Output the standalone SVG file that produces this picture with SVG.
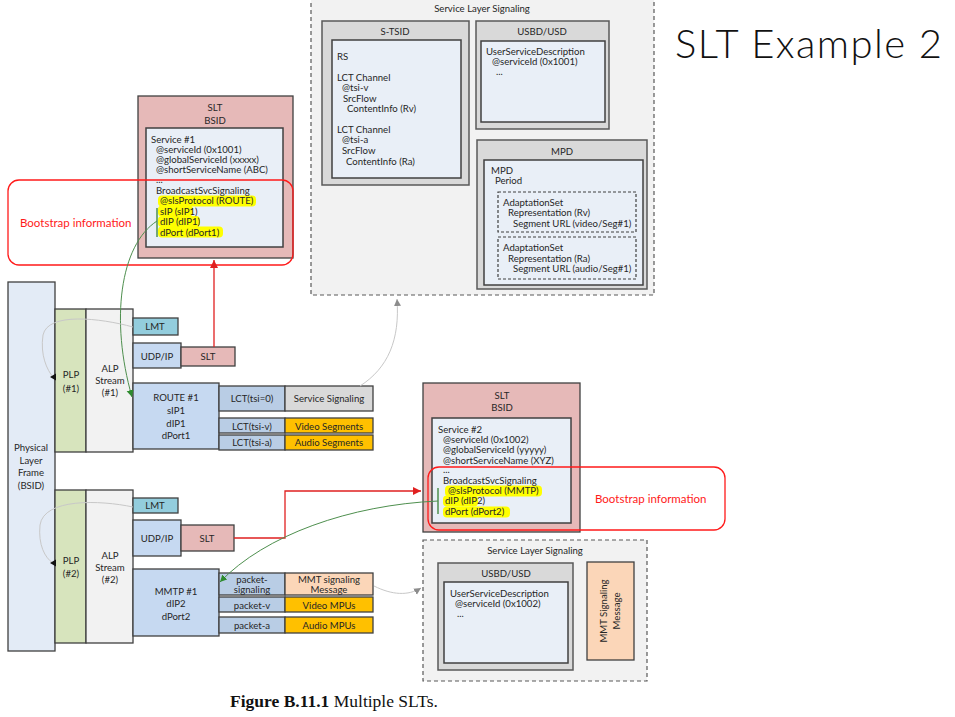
<svg xmlns="http://www.w3.org/2000/svg" width="955" height="717" viewBox="0 0 955 717">
<defs>
<style>
.t{font-family:Lato,"Liberation Sans",sans-serif;font-size:9.6px;fill:#262626}
.c{text-anchor:middle}
.b{stroke:#404040;stroke-width:1.3}
.sls{fill:#F2F2F2;stroke:#595959;stroke-width:1.2;stroke-dasharray:4 3}
.og{fill:#D9D9D9;stroke:#595959;stroke-width:1.5}
.in{fill:#E9EFF7;stroke:#404040;stroke-width:1.5}
.dsh{fill:none;stroke:#404040;stroke-width:1.2;stroke-dasharray:3 2}
.pink{fill:#E6B9B8}
.lb{fill:#C6D9F1}
.lct{fill:#B9CDE5}
.org{fill:#FFC000}
.hl{fill:#FFFF00}
.boot{fill:none;stroke:#FF1A1A;stroke-width:1.3}
.bt{font-family:Lato,"Liberation Sans",sans-serif;font-size:11.5px;fill:#FF1A1A}
.red{fill:none;stroke:#E02020;stroke-width:1.3}
.grn{fill:none;stroke:#4E8F4E;stroke-width:1}
.gry{fill:none;stroke:#C8C8C8;stroke-width:1}
</style>
<marker id="ar" markerWidth="10" markerHeight="10" refX="8" refY="4" orient="auto" markerUnits="userSpaceOnUse"><path d="M0,0 L8,4 L0,8 z" fill="#E02020"/></marker>
<marker id="ag" markerWidth="10" markerHeight="10" refX="7" refY="3.5" orient="auto" markerUnits="userSpaceOnUse"><path d="M0,0 L7,3.5 L0,7 z" fill="#2E8B2E"/></marker>
<marker id="ay" markerWidth="10" markerHeight="10" refX="7" refY="3.5" orient="auto" markerUnits="userSpaceOnUse"><path d="M0,0 L7,3.5 L0,7 z" fill="#8C8C8C"/></marker>
</defs>
<rect width="955" height="717" fill="#FFFFFF"/>

<!-- Title -->
<text x="675" y="58" font-family="Lato,'Liberation Sans',sans-serif" font-size="40" font-weight="300" fill="#111" textLength="267">SLT Example 2</text>

<!-- Top Service Layer Signaling -->
<g id="sls1">
<rect class="sls" x="311" y="-5" width="343" height="300"/>
<text class="t c" x="482" y="11.5">Service Layer Signaling</text>
<g id="stsid">
<rect class="og" x="322" y="21" width="147" height="164"/>
<text class="t c" x="395" y="34.5">S-TSID</text>
<rect class="in" x="332" y="40" width="129" height="138"/>
<text class="t" x="337" y="59.5">RS</text>
<text class="t" x="337" y="80.5">LCT Channel</text>
<text class="t" x="342" y="90.5">@tsi-v</text>
<text class="t" x="343" y="101.5">SrcFlow</text>
<text class="t" x="347" y="111.5">ContentInfo (Rv)</text>
<text class="t" x="337" y="132.5">LCT Channel</text>
<text class="t" x="342" y="142.5">@tsi-a</text>
<text class="t" x="342" y="153.5">SrcFlow</text>
<text class="t" x="346" y="164.5">ContentInfo (Ra)</text>
</g>
<g id="usbd1">
<rect class="og" x="476" y="21" width="133" height="108"/>
<text class="t c" x="542" y="34.5">USBD/USD</text>
<rect class="in" x="481" y="41" width="124" height="81"/>
<text class="t" x="486" y="54.5">UserServiceDescription</text>
<text class="t" x="492" y="64.5">@serviceId (0x1001)</text>
<text class="t" x="496" y="75">...</text>
</g>
<g id="mpd">
<rect class="og" x="477" y="140" width="170" height="149"/>
<text class="t c" x="562" y="154.5">MPD</text>
<rect class="in" x="484" y="160" width="159" height="125"/>
<text class="t" x="491" y="173.5">MPD</text>
<text class="t" x="495" y="183.5">Period</text>
<rect class="dsh" x="498" y="192" width="138" height="40"/>
<text class="t" x="503" y="205.5">AdaptationSet</text>
<text class="t" x="508" y="215.5">Representation (Rv)</text>
<text class="t" x="513" y="226.5">Segment URL (video/Seg#1)</text>
<rect class="dsh" x="498" y="237" width="138" height="42"/>
<text class="t" x="503" y="250.5">AdaptationSet</text>
<text class="t" x="508" y="261.5">Representation (Ra)</text>
<text class="t" x="513" y="271.5">Segment URL (audio/Seg#1)</text>
</g>
</g>

<!-- SLT BSID #1 -->
<g id="slt-bsid1">
<rect class="pink b" x="138" y="96" width="155" height="162"/>
<text class="t c" x="215" y="110.5">SLT</text>
<text class="t c" x="215" y="123.5">BSID</text>
<rect class="in" x="146" y="128" width="137" height="119"/>
<rect class="hl" x="158" y="195.5" width="98" height="11" rx="4"/>
<rect class="hl" x="158" y="205.5" width="35" height="11" rx="4"/>
<rect class="hl" x="158" y="216" width="42" height="11" rx="4"/>
<rect class="hl" x="158" y="226.5" width="65" height="11" rx="4"/>
<text class="t" x="151" y="142.5">Service #1</text>
<text class="t" x="156" y="152.5">@serviceId (0x1001)</text>
<text class="t" x="156" y="162.5">@globalServiceId (xxxxx)</text>
<text class="t" x="156" y="172.5">@shortServiceName (ABC)</text>
<text class="t" x="156" y="182.5">...</text>
<text class="t" x="156" y="193.5">BroadcastSvcSignaling</text>
<text class="t" x="160" y="203.5">@slsProtocol (ROUTE)</text>
<text class="t" x="160" y="214.5">sIP (sIP1)</text>
<text class="t" x="160" y="225">dIP (dIP1)</text>
<text class="t" x="160" y="235.5">dPort (dPort1)</text>
<line x1="157" y1="208" x2="157" y2="237" stroke="#4E8F4E" stroke-width="1.5"/>
</g>
<g id="boot1">
<rect class="boot" x="8" y="180" width="285" height="85" rx="11"/>
<text class="bt" x="20" y="227">Bootstrap information</text>
</g>

<!-- Physical layer frame -->
<g id="plf">
<rect x="8" y="282" width="47" height="369" fill="#E3EBF6" class="b"/>
<text class="t c" x="31" y="450.5">Physical</text>
<text class="t c" x="31" y="463.5">Layer</text>
<text class="t c" x="31" y="476">Frame</text>
<text class="t c" x="31" y="488.5">(BSID)</text>
</g>

<!-- Stream 1 -->
<g id="plp1">
<rect x="55" y="309" width="31" height="143" fill="#D7E4BD" class="b"/>
<text class="t c" x="71" y="377.5">PLP</text>
<text class="t c" x="71" y="391.5">(#1)</text>
</g>
<g id="alp1">
<rect x="86" y="309" width="47" height="143" fill="#F2F2F2" class="b"/>
<text class="t c" x="110" y="371.5">ALP</text>
<text class="t c" x="110" y="383.5">Stream</text>
<text class="t c" x="110" y="395.5">(#1)</text>
</g>
<g id="lmt1">
<rect x="133" y="318" width="45" height="17" fill="#93CDDD" class="b"/>
<text class="t c" x="155" y="329.5">LMT</text>
</g>
<g id="udp1">
<rect x="133" y="343" width="48" height="25" class="lb b"/>
<text class="t c" x="157" y="359.5">UDP/IP</text>
</g>
<g id="slt1">
<rect x="181" y="347" width="54" height="19" class="pink b"/>
<text class="t c" x="208" y="359.5">SLT</text>
</g>
<g id="route1">
<rect x="133" y="383" width="86" height="66" class="lb b"/>
<text class="t c" x="176" y="400.5">ROUTE #1</text>
<text class="t c" x="176" y="413.5">sIP1</text>
<text class="t c" x="176" y="426.5">dIP1</text>
<text class="t c" x="176" y="438.5">dPort1</text>
</g>
<g id="lct0">
<rect x="219" y="386" width="66" height="25" class="lct b"/>
<text class="t c" x="252" y="401.5">LCT(tsi=0)</text>
</g>
<g id="ss1">
<rect x="285" y="386" width="88" height="25" fill="#D9D9D9" class="b"/>
<text class="t c" x="329" y="401.5">Service Signaling</text>
</g>
<g id="lctv">
<rect x="219" y="418" width="66" height="15" class="lct b"/>
<text class="t c" x="252" y="429.5">LCT(tsi-v)</text>
</g>
<g id="vseg">
<rect x="285" y="418" width="88" height="15" class="org b"/>
<text class="t c" x="329" y="429.5">Video Segments</text>
</g>
<g id="lcta">
<rect x="219" y="435" width="66" height="15" class="lct b"/>
<text class="t c" x="252" y="446">LCT(tsi-a)</text>
</g>
<g id="aseg">
<rect x="285" y="435" width="88" height="15" class="org b"/>
<text class="t c" x="329" y="446">Audio Segments</text>
</g>

<!-- Stream 2 -->
<g id="plp2">
<rect x="55" y="490" width="31" height="153" fill="#D7E4BD" class="b"/>
<text class="t c" x="71" y="564">PLP</text>
<text class="t c" x="71" y="577">(#2)</text>
</g>
<g id="alp2">
<rect x="86" y="490" width="47" height="153" fill="#F2F2F2" class="b"/>
<text class="t c" x="110" y="558.5">ALP</text>
<text class="t c" x="110" y="570.5">Stream</text>
<text class="t c" x="110" y="582.5">(#2)</text>
</g>
<g id="lmt2">
<rect x="133" y="498" width="45" height="15" fill="#93CDDD" class="b"/>
<text class="t c" x="155" y="508.5">LMT</text>
</g>
<g id="udp2">
<rect x="133" y="520" width="48" height="36" class="lb b"/>
<text class="t c" x="157" y="541.5">UDP/IP</text>
</g>
<g id="slt2">
<rect x="181" y="525" width="53" height="26" class="pink b"/>
<text class="t c" x="207" y="541.5">SLT</text>
</g>
<g id="mmtp1">
<rect x="133" y="569" width="86" height="67" class="lb b"/>
<text class="t c" x="176" y="594.5">MMTP #1</text>
<text class="t c" x="176" y="606.5">dIP2</text>
<text class="t c" x="176" y="619.5">dPort2</text>
</g>
<g id="pks">
<rect x="219" y="573" width="66" height="22" class="lct b"/>
<text class="t c" x="252" y="582.5">packet-</text>
<text class="t c" x="252" y="592.5">signaling</text>
</g>
<g id="mmtmsg">
<rect x="285" y="573" width="88" height="22" fill="#FBD6B8" class="b"/>
<text class="t c" x="329" y="582.5">MMT signaling</text>
<text class="t c" x="329" y="592.5">Message</text>
</g>
<g id="pkv">
<rect x="219" y="597" width="66" height="15" class="lct b"/>
<text class="t c" x="252" y="608.5">packet-v</text>
</g>
<g id="vmpu">
<rect x="285" y="597" width="88" height="15" class="org b"/>
<text class="t c" x="329" y="608.5">Video MPUs</text>
</g>
<g id="pka">
<rect x="219" y="617" width="66" height="16" class="lct b"/>
<text class="t c" x="252" y="628.5">packet-a</text>
</g>
<g id="ampu">
<rect x="285" y="617" width="88" height="16" class="org b"/>
<text class="t c" x="329" y="628.5">Audio MPUs</text>
</g>

<!-- SLT BSID #2 -->
<g id="slt-bsid2">
<rect class="pink b" x="423" y="383" width="157" height="149"/>
<text class="t c" x="502" y="398.5">SLT</text>
<text class="t c" x="502" y="410.5">BSID</text>
<rect class="in" x="432" y="418" width="139" height="105"/>
<rect class="hl" x="445" y="485.5" width="97" height="11" rx="4"/>
<rect class="hl" x="443" y="495.5" width="35" height="11" rx="4"/>
<rect class="hl" x="443" y="506.5" width="67" height="11" rx="4"/>
<text class="t" x="438" y="432.5">Service #2</text>
<text class="t" x="443" y="442.5">@serviceId (0x1002)</text>
<text class="t" x="443" y="452.5">@globalServiceId (yyyyy)</text>
<text class="t" x="443" y="463.5">@shortServiceName (XYZ)</text>
<text class="t" x="443" y="473">...</text>
<text class="t" x="443" y="483.5">BroadcastSvcSignaling</text>
<text class="t" x="448" y="493.5">@slsProtocol (MMTP)</text>
<text class="t" x="445" y="503.5">dIP (dIP2)</text>
<text class="t" x="445" y="515">dPort (dPort2)</text>
<line x1="438" y1="488" x2="438" y2="514" stroke="#4E8F4E" stroke-width="1.5"/>
</g>
<g id="boot2">
<rect class="boot" x="428" y="467" width="297" height="63" rx="11"/>
<text class="bt" x="595" y="503">Bootstrap information</text>
</g>

<!-- Bottom Service Layer Signaling -->
<g id="sls2">
<rect class="sls" x="423" y="540" width="224" height="141"/>
<text class="t c" x="535" y="553.5">Service Layer Signaling</text>
<g id="usbd2">
<rect class="og" x="438" y="563" width="135" height="107"/>
<text class="t c" x="506" y="576.5">USBD/USD</text>
<rect class="in" x="444" y="582" width="124" height="81"/>
<text class="t" x="450" y="596.5">UserServiceDescription</text>
<text class="t" x="455" y="606.5">@serviceId (0x1002)</text>
<text class="t" x="457" y="617">...</text>
</g>
<g id="mmtsig">
<rect x="587" y="562" width="47" height="98" fill="#FBD6B8" class="b"/>
<text class="t c" transform="translate(610,611) rotate(-90)"><tspan x="0" y="-3">MMT Signaling</tspan><tspan x="0" y="10">Message</tspan></text>
</g>
</g>

<!-- Connectors -->
<g id="connectors">
<path class="red" d="M214,347 L214,260" marker-end="url(#ar)"/>
<path class="red" d="M234,538 L285,538 L285,491 L421,491" marker-end="url(#ar)"/>
<path class="grn" d="M157,221 C120,245 110,320 132,397" marker-end="url(#ag)"/>
<path class="grn" d="M438,501 C350,505 265,535 220,582" marker-end="url(#ag)"/>
<path class="gry" d="M360,386 C388,368 400,340 397,299" marker-end="url(#ay)"/>
<path class="gry" d="M374,586 C392,595 408,596 421,588" marker-end="url(#ay)"/>
<path class="gry" d="M133,327 C100,318 48,312 43,335 C40,355 47,370 53,377"/>
<path class="gry" d="M133,507 C100,500 44,498 40,525 C38,545 45,558 53,563"/>
<path d="M56,373.5 L50,377 L56,380.5 z" fill="#111"/>
<path d="M56,559.5 L50,563 L56,566.5 z" fill="#111"/>
</g>

<!-- Caption -->
<text x="230" y="707" font-family="'Liberation Serif',serif" font-size="17.5" fill="#111"><tspan font-weight="bold">Figure B.11.1</tspan> Multiple SLTs.</text>
</svg>
